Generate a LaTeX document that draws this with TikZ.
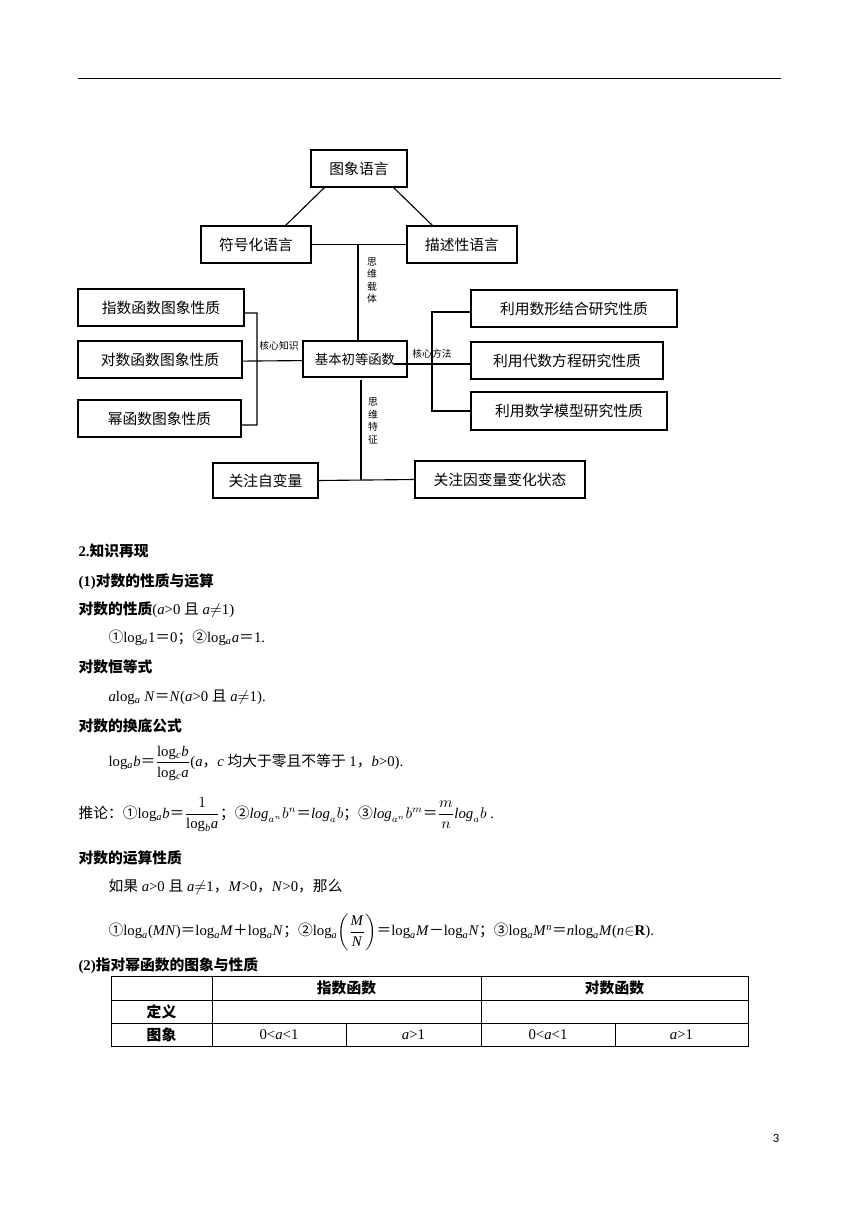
\documentclass[tikz,border=0pt]{standalone}
\usepackage{amsmath}
\usepackage{fontspec}
\setmainfont{Liberation Serif}
\newfontfamily\cjk{Noto Sans CJK SC}
\newfontfamily\pagefont{Carlito}
\usepackage{tikz}
\newcommand\lgb[1]{log\textsubscript{\textit{#1}}}

\begin{document}
\begin{tikzpicture}[x=0.025cm, y=-0.025cm, line width=0.8pt]
	\tikzset{box/.style = {draw, line width=0.9pt, inner sep=0, font=\cjk\fontsize{10.5}{12}\selectfont},
		lbl/.style = {inner sep=0, font=\cjk\fontsize{7}{8.9}\selectfont, align=center},
		txt/.style = {anchor=base west, inner sep=0, font=\fontsize{10.5}{12}\selectfont},
		cell/.style = {inner sep=0, font=\fontsize{10.5}{12}\selectfont}}
	\useasboundingbox (0,0) rectangle (860,1216);
	\draw[line width=0.6pt] (78,78) -- (781,78);
	% mind map boxes
	\foreach \n/\x/\y/\w/\h/\t in {img/359/168.5/96/37/图象语言,
		sym/256/244.5/110/37/符号化语言, dsc/462/244.5/110/37/描述性语言,
		expf/161/307.5/166/37/指数函数图象性质, logf/160/359.5/164/37/对数函数图象性质, powf/159.5/418.5/163/37/幂函数图象性质,
		mshape/574/308.5/206/37/利用数形结合研究性质, malg/567/360.5/192/37/利用代数方程研究性质, mmod/569/411/196/38/利用数学模型研究性质,
		fx/265.5/480.5/105/35/关注自变量, fy/500/479.5/170/37/关注因变量变化状态}{
		\node[box, minimum width=\w*0.025cm, minimum height=\h*0.025cm] (\n) at (\x,\y) {\t};
	}
	\node[box, minimum width=104*0.025cm, minimum height=36*0.025cm, font=\cjk\fontsize{9.5}{11}\selectfont] (base) at (355,359) {基本初等函数};
	\node[lbl] (carrier) at (372,280.5) {思\\维\\载\\体};
	\node[lbl] (feature) at (373,421) {思\\维\\特\\征};
	\node[lbl] (know) at (279,346) {核心知识};
	\node[lbl] (method) at (432,354) {核心方法};
	\coordinate (top) at (358,244.5);
	\coordinate (kt) at (257,313);
	\coordinate (kb) at (257,425);
	\coordinate (ms) at (394,364);
	\coordinate (mt) at (432,312);
	\coordinate (mb) at (432,411);
	\coordinate (fb) at (361,380);
	\coordinate (fj) at (361,480);
	\draw ([xshift=0.35cm]img.south west) -- ([xshift=-0.65cm]sym.north east);
	\draw ([xshift=-0.35cm]img.south east) -- ([xshift=0.65cm]dsc.north west);
	\draw (sym.east) -- (dsc.west);
	\draw (top) -- (top |- base.north);
	\draw ([yshift=-0.1375cm]expf.east) -- (kt) -- (kb) -- ([yshift=-0.1625cm]powf.east);
	\draw ([yshift=-0.04cm]logf.east) -- ([yshift=-0.04cm]base.west);
	\draw (ms) -- (ms -| malg.west);
	\draw (mt -| mshape.west) -- (mt) -- (mb) -- (mb -| mmod.west);
	\draw (fb) -- (fj);
	\draw (fx.east) -- (fy.west);
	% text
	\node[txt] (t1) at (78,556) {\textbf{2.}{\cjk\bfseries 知识再现}};
	\node[txt] (t2) at (78,586) {\textbf{(1)}{\cjk\bfseries 对数的性质与运算}};
	\node[txt] (t3) at (78,614) {{\cjk\bfseries 对数的性质}(\textit{a}>0 {\cjk 且} \textit{a}$\neq$1)};
	\node[txt] (t4) at (108,642) {{\cjk ①}\lgb{a}1{\cjk ＝}0{\cjk ；②}\lgb{a}\textit{a}{\cjk ＝}1.};
	\node[txt] (t5) at (78,672) {{\cjk\bfseries 对数恒等式}};
	\node[txt] (t6) at (108,701) {\textit{a}\lgb{a} \textit{N}{\cjk ＝}\textit{N}(\textit{a}>0 {\cjk 且} \textit{a}$\neq$1).};
	\node[txt] (t7) at (78,731) {{\cjk\bfseries 对数的换底公式}};
	\node[txt, anchor=west] (t8) at (108,763) {\lgb{a}\textit{b}{\cjk ＝}$\dfrac{\text{\lgb{c}\textit{b}}}{\text{\lgb{c}\textit{a}}}$(\textit{a}{\cjk ，}\textit{c} {\cjk 均大于零且不等于} 1{\cjk ，}\textit{b}>0).};
	\node[txt, anchor=west] (t9) at (78,815) {{\cjk 推论：①}\lgb{a}\textit{b}{\cjk ＝}$\dfrac{1}{\text{\lgb{b}\textit{a}}}${\cjk ；②}$\mathit{log}_{a^n}b^n${\cjk ＝}$\mathit{log}_a b${\cjk ；③}$\mathit{log}_{a^n}b^m${\cjk ＝}$\dfrac{m}{n}\mathit{log}_a b$ .};
	\node[txt] (t10) at (78,863) {{\cjk\bfseries 对数的运算性质}};
	\node[txt] (t11) at (108,891) {{\cjk 如果} \textit{a}>0 {\cjk 且} \textit{a}$\neq$1{\cjk ，}\textit{M}>0{\cjk ，}\textit{N}>0{\cjk ，那么}};
	\node[txt, anchor=west] (t12) at (108,932) {{\cjk ①}\lgb{a}(\textit{MN}){\cjk ＝}\lgb{a}\textit{M}{\cjk ＋}\lgb{a}\textit{N}{\cjk ；②}\lgb{a}$\left(\dfrac{\text{\textit{M}}}{\text{\textit{N}}}\right)${\cjk ＝}\lgb{a}\textit{M}{\cjk －}\lgb{a}\textit{N}{\cjk ；③}\lgb{a}\textit{M}\textsuperscript{\textit{n}}{\cjk ＝}\textit{n}\lgb{a}\textit{M}(\textit{n}$\in$\textbf{R}).};
	\node[txt] (t13) at (78,970) {\textbf{(2)}{\cjk\bfseries 指对幂函数的图象与性质}};
	% table
	\draw[line width=0.6pt] (111,976) rectangle (748,1046);
	\draw[line width=0.6pt] (111,1000) -- (748,1000);
	\draw[line width=0.6pt] (111,1023) -- (748,1023);
	\draw[line width=0.6pt] (212,976) -- (212,1046);
	\draw[line width=0.6pt] (481,976) -- (481,1046);
	\draw[line width=0.6pt] (346,1023) -- (346,1046);
	\draw[line width=0.6pt] (615,1023) -- (615,1046);
	\node[cell] (hexp) at (346.5,988) {\cjk\bfseries 指数函数};
	\node[cell] (hlog) at (614.5,988) {\cjk\bfseries 对数函数};
	\node[cell] (rdef) at (161.5,1011.5) {\cjk\bfseries 定义};
	\node[cell] (rimg) at (161.5,1034.5) {\cjk\bfseries 图象};
	\node[cell] (c1) at (279,1034.5) {0<\textit{a}<1};
	\node[cell] (c2) at (413.5,1034.5) {\textit{a}>1};
	\node[cell] (c3) at (548,1034.5) {0<\textit{a}<1};
	\node[cell] (c4) at (681.5,1034.5) {\textit{a}>1};
	\node[inner sep=0, font=\pagefont\fontsize{9}{10}\selectfont] (pg) at (776,1138) {3};
\end{tikzpicture}
\end{document}
